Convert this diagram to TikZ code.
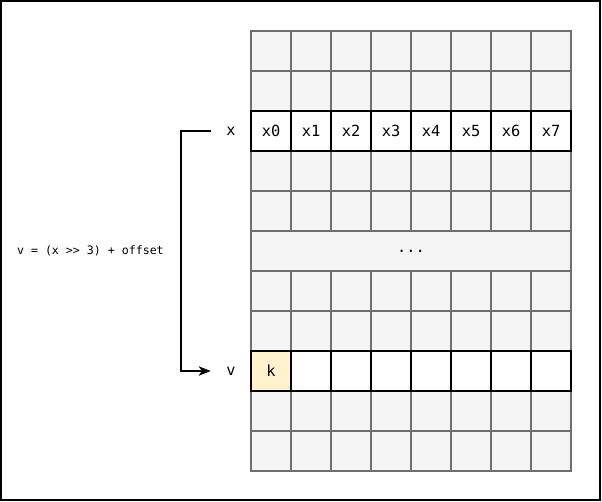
\documentclass[tikz,border=0pt]{standalone}
\usepackage{fontspec}
\usetikzlibrary{positioning}
\usetikzlibrary{arrows.meta}

\newfontfamily\dvsmono{DejaVu Sans Mono}
\newcommand{\celltext}{\dvsmono\fontsize{11.5}{13}\selectfont}
\newcommand{\formulatext}{\dvsmono\fontsize{8.7}{10}\selectfont}

\definecolor{cellfill}{HTML}{F5F5F5}
\definecolor{cellline}{HTML}{6F6F6F}
\definecolor{keyfill}{HTML}{FFF2CC}

\begin{document}
\begin{tikzpicture}[
    x=0.75pt, y=-0.75pt,
    greycell/.style={rectangle, draw=cellline, fill=cellfill, line width=1.5pt, minimum size=30pt, inner sep=0pt, font=\celltext},
    boldcell/.style={greycell, draw=black, fill=white},
    namenode/.style={minimum width=30pt, inner sep=0pt, font=\celltext}
]
    % Outer frame
    \useasboundingbox (0, 0) rectangle (602, 502);
    \draw [line width=1.5pt] (1, 1) rectangle (600, 500);

    % Memory grid
    % - [Grey rows]
    \foreach \r in {0,1,3,4,6,7,9,10} {
        \foreach \c in {0,...,7} {
            \node at (271+40*\c, 51+40*\r) [greycell] (cell-\r-\c) {};
        }
    }
    % - [Merged row]
    \node at (411, 251) [greycell, minimum width=240pt] (dots) {...};
    % - [Row x]
    \foreach \c in {0,...,7} {
        \node at (271+40*\c, 131) [boldcell] (x\c) {x\c};
    }
    % - [Row v]
    \node at (271, 371) [boldcell, fill=keyfill] (v0) {k};
    \foreach \c in {1,...,7} {
        \node at (271+40*\c, 371) [boldcell] (v\c) {};
    }

    % Row names
    \node at (231, 131) [namenode] (xname) {x};
    \node at (231, 371) [namenode] (vname) {v};
    % -- Bracket from x to v
    \draw [line width=1.5pt, -{Stealth[length=9pt, width=7pt, inset=2.5pt]}]
        (xname.west) -- ++(-30, 0) |- (vname.west)
        node [pos=0.25, left=12pt, inner sep=0pt, font=\formulatext] (formula) {v = (x >> 3) + offset};

\end{tikzpicture}
\end{document}
